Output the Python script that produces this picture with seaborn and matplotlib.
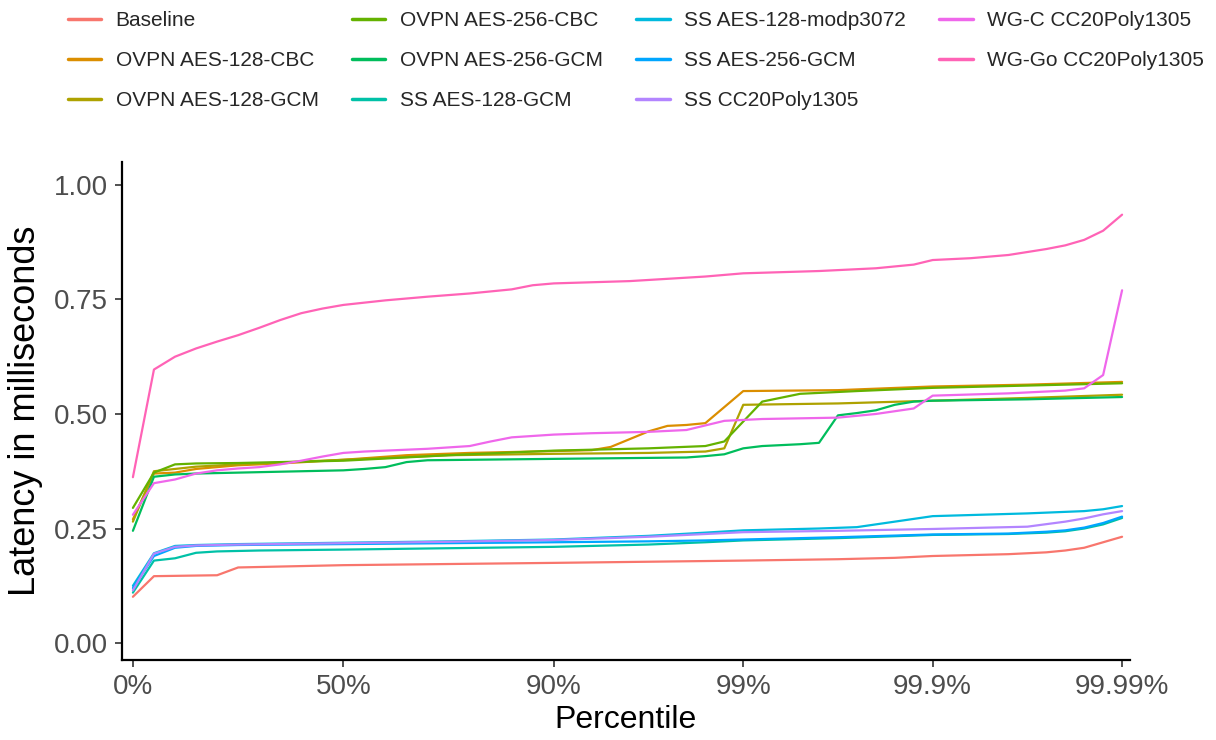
import matplotlib
matplotlib.use("Agg")
import matplotlib.pyplot as plt
import numpy as np
import pandas as pd
import seaborn as sns

# percentile step index: 0..20 covers 0%-90%, 20..50 covers 90%-99.99%
tick_steps = [0, 10, 20, 30, 40, 50]
tick_labels = ["0%", "50%", "90%", "99%", "99.9%", "99.99%"]

series_names = [
    "Baseline", "OVPN AES-128-CBC", "OVPN AES-128-GCM", "OVPN AES-256-CBC",
    "OVPN AES-256-GCM", "SS AES-128-GCM", "SS AES-128-modp3072", "SS AES-256-GCM",
    "SS CC20Poly1305", "WG-C CC20Poly1305", "WG-Go CC20Poly1305",
]
series_colors = [
    "#F8766D", "#DB8E00", "#AEA200", "#64B200", "#00BD5C", "#00C1A7",
    "#00BADE", "#00A6FF", "#B385FF", "#EF67EB", "#FF63B6",
]

baseline_step = [0, 1, 4, 5, 10, 20, 30, 35, 38, 40, 44, 46, 47, 48, 49, 50]
baseline_ms = [0.101, 0.146, 0.148, 0.165, 0.170, 0.175, 0.180, 0.183, 0.186,
               0.190, 0.194, 0.198, 0.202, 0.208, 0.220, 0.232]

ovpn128cbc_step = [0, 1, 2, 3, 4, 5, 7, 10, 13, 16, 20, 22, 23, 24, 25, 26, 27,
                   28, 30, 35, 40, 45, 50]
ovpn128cbc_ms = [0.270, 0.370, 0.372, 0.380, 0.384, 0.388, 0.392, 0.400, 0.410,
                 0.415, 0.419, 0.421, 0.428, 0.445, 0.462, 0.474, 0.476, 0.480,
                 0.550, 0.552, 0.560, 0.564, 0.570]

ovpn128gcm_step = [0, 1, 2, 3, 5, 10, 15, 20, 25, 28, 29, 30, 35, 40, 45, 50]
ovpn128gcm_ms = [0.265, 0.375, 0.380, 0.385, 0.390, 0.400, 0.410, 0.413, 0.415,
                 0.418, 0.425, 0.520, 0.523, 0.529, 0.535, 0.542]

ovpn256cbc_step = [0, 1, 2, 3, 5, 10, 15, 20, 25, 28, 29, 31, 33, 36, 40, 45, 50]
ovpn256cbc_ms = [0.295, 0.372, 0.390, 0.392, 0.393, 0.398, 0.410, 0.420, 0.425,
                 0.430, 0.440, 0.527, 0.544, 0.550, 0.557, 0.562, 0.567]

ovpn256gcm_step = [0, 1, 2, 3, 5, 10, 11, 12, 13, 14, 20, 27, 28, 29, 30, 31, 32,
                   33, 34, 35, 36, 37, 38, 39, 40, 45, 50]
ovpn256gcm_ms = [0.245, 0.363, 0.368, 0.370, 0.372, 0.377, 0.380, 0.384, 0.395,
                 0.399, 0.402, 0.405, 0.408, 0.412, 0.425, 0.430, 0.432, 0.434,
                 0.437, 0.497, 0.502, 0.508, 0.520, 0.527, 0.529, 0.532, 0.537]

ss128gcm_step = [0, 1, 2, 3, 4, 6, 10, 15, 20, 25, 28, 30, 35, 40, 44, 46, 47,
                 48, 49, 50]
ss128gcm_ms = [0.110, 0.180, 0.185, 0.197, 0.200, 0.202, 0.204, 0.207, 0.210,
               0.215, 0.220, 0.224, 0.229, 0.236, 0.238, 0.241, 0.244, 0.250,
               0.259, 0.273]

ssmodp_step = [0, 1, 2, 3, 5, 10, 15, 20, 25, 28, 30, 34, 36, 38, 40, 45, 48,
               49, 50]
ssmodp_ms = [0.125, 0.196, 0.212, 0.214, 0.216, 0.219, 0.222, 0.226, 0.234,
             0.241, 0.246, 0.250, 0.253, 0.265, 0.277, 0.283, 0.288, 0.292, 0.299]

ss256gcm_step = [0, 1, 2, 3, 5, 10, 15, 20, 25, 28, 30, 35, 40, 44, 46, 47, 48,
                 49, 50]
ss256gcm_ms = [0.120, 0.190, 0.208, 0.212, 0.214, 0.216, 0.218, 0.220, 0.222,
               0.224, 0.226, 0.231, 0.237, 0.239, 0.243, 0.246, 0.252, 0.262,
               0.276]

sscc20_step = [0, 1, 2, 3, 5, 10, 15, 20, 25, 28, 30, 35, 40, 45, 47, 48, 49, 50]
sscc20_ms = [0.115, 0.195, 0.210, 0.213, 0.215, 0.218, 0.221, 0.225, 0.232,
             0.238, 0.242, 0.245, 0.249, 0.254, 0.265, 0.272, 0.281, 0.288]

wgc_step = [0, 1, 2, 3, 4, 5, 6, 7, 8, 9, 10, 11, 12, 14, 16, 17, 18, 20, 22,
            25, 27, 28, 29, 31, 35, 37, 39, 40, 44, 47, 48, 49, 50]
wgc_ms = [0.280, 0.349, 0.357, 0.370, 0.377, 0.381, 0.384, 0.390, 0.398, 0.407,
          0.415, 0.418, 0.420, 0.424, 0.430, 0.440, 0.449, 0.455, 0.458, 0.461,
          0.465, 0.475, 0.485, 0.489, 0.492, 0.500, 0.512, 0.540, 0.545, 0.551,
          0.556, 0.585, 0.770]

wggo_step = [0, 1, 2, 3, 4, 5, 6, 7, 8, 9, 10, 12, 14, 16, 18, 19, 20, 24, 26,
             28, 30, 34, 37, 39, 40, 42, 44, 46, 47, 48, 49, 50]
wggo_ms = [0.362, 0.597, 0.625, 0.643, 0.658, 0.672, 0.688, 0.705, 0.720, 0.730,
           0.738, 0.748, 0.756, 0.763, 0.772, 0.781, 0.785, 0.790, 0.795, 0.800,
           0.807, 0.812, 0.818, 0.826, 0.836, 0.840, 0.847, 0.860, 0.868, 0.880,
           0.900, 0.935]

steps = [baseline_step, ovpn128cbc_step, ovpn128gcm_step, ovpn256cbc_step,
         ovpn256gcm_step, ss128gcm_step, ssmodp_step, ss256gcm_step,
         sscc20_step, wgc_step, wggo_step]
values = [baseline_ms, ovpn128cbc_ms, ovpn128gcm_ms, ovpn256cbc_ms,
          ovpn256gcm_ms, ss128gcm_ms, ssmodp_ms, ss256gcm_ms,
          sscc20_ms, wgc_ms, wggo_ms]

df = pd.concat(
    [pd.DataFrame({"step": s, "latency": v, "setup": n})
     for n, s, v in zip(series_names, steps, values)],
    ignore_index=True,
)


def fwd(i):
    i = np.asarray(i, dtype=float)
    return np.where(i <= 20, i, 20 + (i - 20) * 0.9)


def inv(u):
    u = np.asarray(u, dtype=float)
    return np.where(u <= 20, u, 20 + (u - 20) / 0.9)


sns.set_theme(style="white")
plt.rcParams["font.family"] = ["Liberation Sans", "DejaVu Sans"]

fig = plt.figure(figsize=(12.16, 7.4), dpi=100)
ax = fig.add_axes([0.1003, 0.1081, 0.829, 0.673])
ax.set_xscale("function", functions=(fwd, inv))

sns.lineplot(
    data=df, x="step", y="latency", hue="setup", hue_order=series_names,
    palette=series_colors, estimator=None, sort=False, linewidth=1.6, ax=ax,
)

ax.set_xlim(-0.52, 50.42)
ax.set_ylim(-0.037, 1.05)
ax.set_xticks(tick_steps)
ax.set_xticklabels(tick_labels)
ax.set_yticks([0, 0.25, 0.5, 0.75, 1.0])
ax.set_yticklabels(["0.00", "0.25", "0.50", "0.75", "1.00"])
ax.xaxis.set_minor_locator(matplotlib.ticker.NullLocator())

sns.despine(ax=ax)
for side in ["left", "bottom"]:
    ax.spines[side].set_linewidth(1.6)
    ax.spines[side].set_color("black")
ax.tick_params(axis="both", which="major", length=5, width=1.2, color="#333333",
               labelsize=20, labelcolor="#4D4D4D", pad=5, bottom=True, left=True)

ax.set_xlabel("Percentile", fontsize=23, color="black", labelpad=4)
ax.set_ylabel("Latency in milliseconds", fontsize=26, color="black", labelpad=8)

handles, labels = ax.get_legend_handles_labels()
ax.get_legend().remove()
leg = fig.legend(
    handles, labels, ncol=4, loc="upper center", bbox_to_anchor=(0.523, 1.01),
    frameon=False, fontsize=15, handlelength=1.6, handletextpad=0.7,
    columnspacing=1.6, labelspacing=1.0,
)
for h in leg.legend_handles:
    h.set_linewidth(2.5)

fig.savefig("out.png", dpi=100, facecolor="white")
